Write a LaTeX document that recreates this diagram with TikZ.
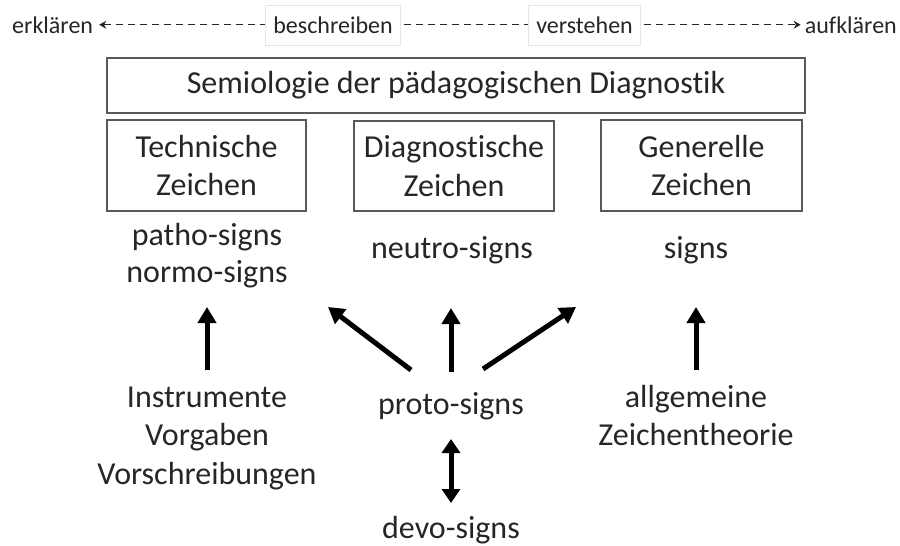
\documentclass[tikz,border=0pt]{standalone}
\usepackage{fontspec}
\setmainfont{Carlito}[Ligatures=NoCommon]
\usetikzlibrary{arrows.meta}
\definecolor{txt}{HTML}{262626}
\definecolor{bord}{HTML}{595959}
\begin{document}
\begin{tikzpicture}[x=1pt,y=-1pt,
  lbl/.style={font=\fontsize{32}{38}\selectfont, text=txt, inner sep=0pt, anchor=base},
  toplbl/.style={font=\fontsize{24}{29}\selectfont, text=txt, inner sep=0pt, anchor=base},
  softbox/.style={font=\fontsize{24}{29}\selectfont, text=txt, fill=white, draw=black!10, line width=0.8pt, inner xsep=8pt, minimum height=40pt},
  box/.style={draw=bord, line width=1.8pt, inner sep=0pt, align=center, font=\fontsize{32}{38.5}\selectfont, text=txt},
  bigarrow/.style={draw=black, line width=5pt, -{Triangle[length=16pt,width=18pt]}},
  dblarrow/.style={draw=black, line width=5pt, {Triangle[length=14pt,width=18pt]}-{Triangle[length=14pt,width=18pt]}},
  dasharrow/.style={draw=txt, line width=1.3pt, dash pattern=on 7pt off 5pt, {Stealth[length=7pt,width=8pt]}-{Stealth[length=7pt,width=8pt]}}
]
\useasboundingbox (0,0) rectangle (900,546);

% top line
\node[toplbl, anchor=base west] (erk) at (12,33) {erklären};
\node[toplbl, anchor=base east] (aufk) at (897,33) {aufklären};
\draw[dasharrow] ([xshift=6pt]erk.east) -- ([xshift=-4pt]aufk.west);
\node[softbox] (besch) at (333,25) {beschreiben};
\node[softbox] (verst) at (584.5,25) {verstehen};

% boxes
\node[box, minimum width=698pt, minimum height=55pt] (sem) at (456,85.5) {Semiologie der pädagogischen Diagnostik};
\node[box, minimum width=199pt, minimum height=91pt] (tech) at (206.5,165.5) {Technische\\Zeichen};
\node[box, minimum width=200pt, minimum height=90pt] (diag) at (454,166) {Diagnostische\\Zeichen};
\node[box, minimum width=201pt, minimum height=91pt] (gen) at (701.5,165.5) {Generelle\\Zeichen};

% sign labels
\node[lbl] (patho) at (207,245) {patho-signs};
\node[lbl] (normo) at (207,282) {normo-signs};
\node[lbl] (neutro) at (452,258) {neutro-signs};
\node[lbl] (signs) at (696,258) {signs};

% bottom labels
\node[lbl] (instr) at (207,407) {Instrumente};
\node[lbl] (vorg) at (207,445) {Vorgaben};
\node[lbl] (vorsch) at (207,484) {Vorschreibungen};
\node[lbl] (proto) at (451,414) {proto-signs};
\node[lbl] (allg) at (696,407) {allgemeine};
\node[lbl] (zth) at (696,445) {Zeichentheorie};
\node[lbl] (devo) at (451,538) {devo-signs};

% arrow end points
\coordinate (a1s) at (207,370); \coordinate (a1e) at (207,307);
\coordinate (a2s) at (411,370); \coordinate (a2e) at (328,307);
\coordinate (a3s) at (451,372); \coordinate (a3e) at (451,308);
\coordinate (a4s) at (483,369); \coordinate (a4e) at (576,307);
\coordinate (a5s) at (696,370); \coordinate (a5e) at (696,307);
\coordinate (a6s) at (451,439); \coordinate (a6e) at (451,503);

\draw[bigarrow] (a1s) -- (a1e);
\draw[bigarrow] (a2s) -- (a2e);
\draw[bigarrow] (a3s) -- (a3e);
\draw[bigarrow] (a4s) -- (a4e);
\draw[bigarrow] (a5s) -- (a5e);
\draw[dblarrow] (a6s) -- (a6e);
\end{tikzpicture}
\end{document}
